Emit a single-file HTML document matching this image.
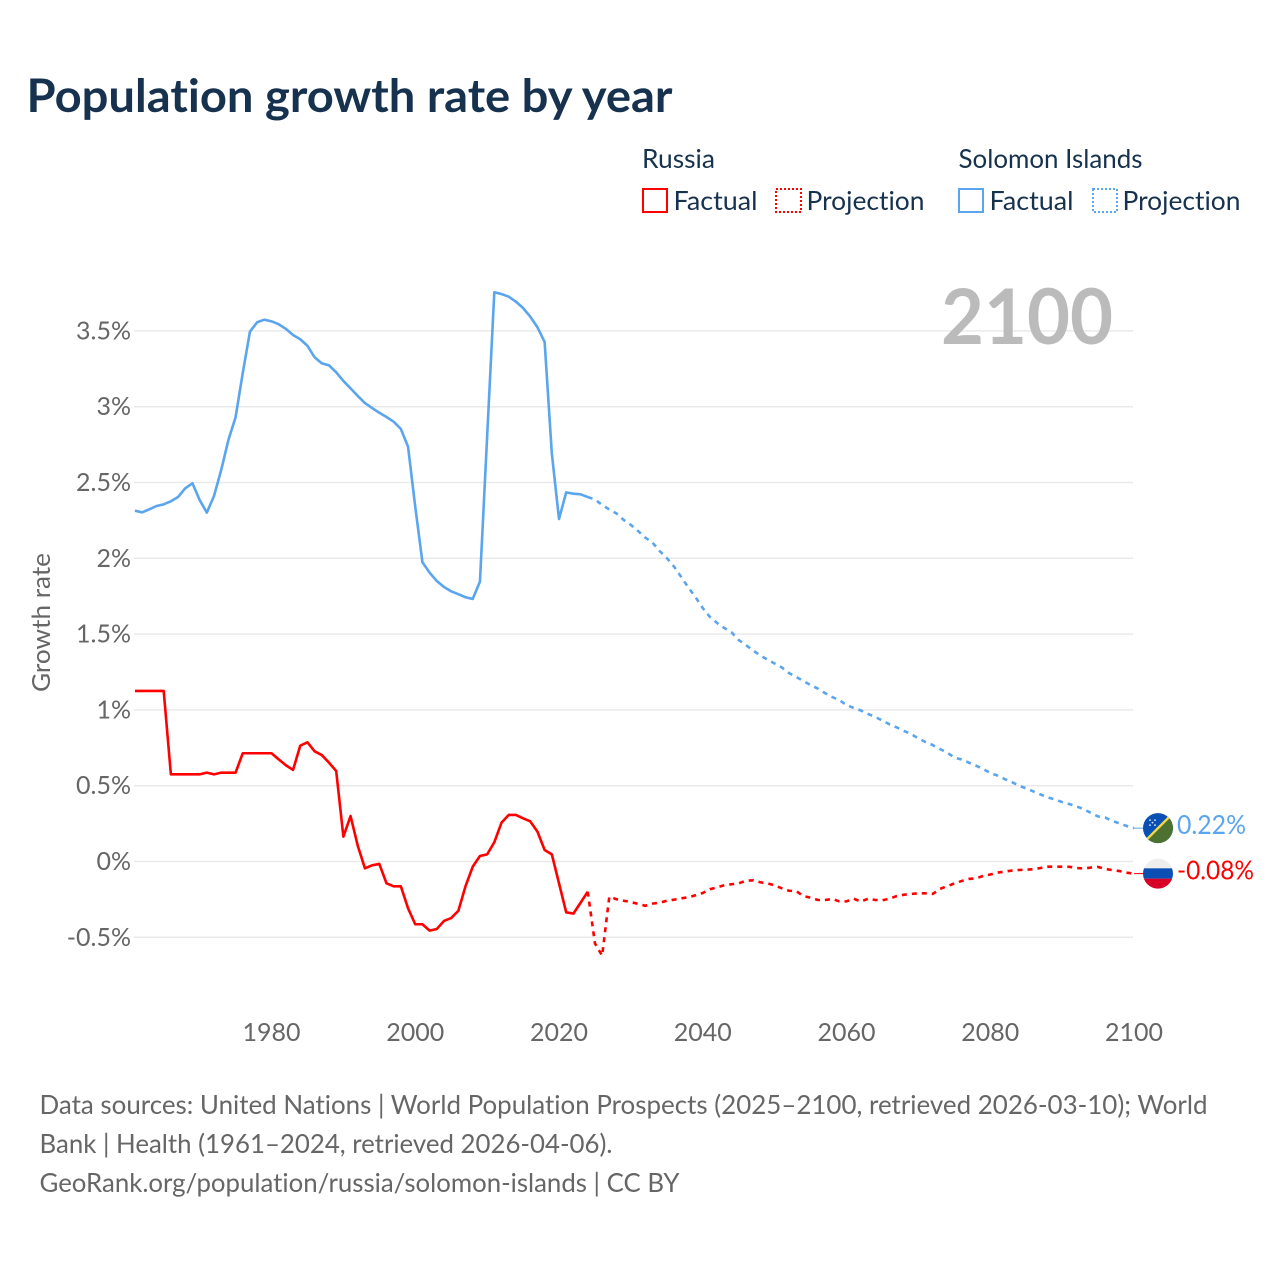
<!DOCTYPE html>
<html lang="en">
<head>
<meta charset="utf-8">
<title>Population growth rate by year</title>
<style>
html,body{margin:0;padding:0;background:#fff;}
svg{display:block;}
text{font-family:"Lato","Carlito","Liberation Sans",sans-serif;font-variant-ligatures:none;}
</style>
</head>
<body>
<svg id="chart" xmlns="http://www.w3.org/2000/svg" width="1280" height="1280" viewBox="0 0 1280 1280">
  <rect x="0" y="0" width="1280" height="1280" fill="#ffffff"/>
  <text x="26.5" y="112" font-size="46" font-weight="700" fill="#17324f" textLength="646" lengthAdjust="spacingAndGlyphs">Population growth rate by year</text>

  <g font-size="26" fill="#17324f">
    <text x="642" y="168" textLength="73" lengthAdjust="spacingAndGlyphs">Russia</text>
    <text x="958.5" y="168" textLength="184" lengthAdjust="spacingAndGlyphs">Solomon Islands</text>
    <rect x="643" y="189" width="24" height="23" fill="none" stroke="#ff0000" stroke-width="2"/>
    <text x="673.5" y="210" textLength="84" lengthAdjust="spacingAndGlyphs">Factual</text>
    <rect x="776" y="189" width="25" height="23" fill="none" stroke="#ff0000" stroke-width="2" stroke-dasharray="2 2"/>
    <text x="806.5" y="210" textLength="118" lengthAdjust="spacingAndGlyphs">Projection</text>
    <rect x="959" y="189" width="24" height="23" fill="none" stroke="#5aa5ee" stroke-width="2"/>
    <text x="989.5" y="210" textLength="84" lengthAdjust="spacingAndGlyphs">Factual</text>
    <rect x="1093" y="189" width="24" height="23" fill="none" stroke="#5aa5ee" stroke-width="2" stroke-dasharray="2 2"/>
    <text x="1122.5" y="210" textLength="118" lengthAdjust="spacingAndGlyphs">Projection</text>
  </g>

  <g id="grid"></g>
  <g id="yticks"></g>
  <g id="xticks"></g>
  <text transform="translate(50,692) rotate(-90)" font-size="25" fill="#666666" textLength="139" lengthAdjust="spacingAndGlyphs">Growth rate</text>
  <text x="941" y="344" font-size="77" font-weight="700" fill="#bbbbbb" textLength="172" lengthAdjust="spacingAndGlyphs">2100</text>

  <g id="series"></g>

  <defs>
    <clipPath id="flag-clip"><circle cx="0" cy="0" r="15"/></clipPath>
  </defs>
  <g id="flag-solomon">
    <g clip-path="url(#flag-clip)">
      <rect x="-16" y="-16" width="32" height="32" fill="#0a50b4"/>
      <polygon points="16,-16 16,16 -16,16" fill="#4c7131"/>
      <line x1="-16" y1="16" x2="16" y2="-16" stroke="#f3d93e" stroke-width="2.4"/>
      <g fill="#dfe8f5">
        <circle cx="-8" cy="-8" r="0.9"/><circle cx="-3" cy="-8" r="0.9"/><circle cx="-8" cy="-3" r="0.9"/><circle cx="-3" cy="-3" r="0.9"/><circle cx="-5.5" cy="-5.5" r="0.9"/>
      </g>
    </g>
  </g>
  <g id="flag-russia">
    <g clip-path="url(#flag-clip)">
      <rect x="-16" y="-16" width="32" height="11" fill="#eeeeee"/>
      <rect x="-16" y="-5.3" width="32" height="10.3" fill="#0b4fb5"/>
      <rect x="-16" y="5" width="32" height="11" fill="#d80027"/>
    </g>
  </g>

  <g font-size="26" fill="#666666">
    <text x="39.5" y="1114" textLength="1168" lengthAdjust="spacingAndGlyphs">Data sources: United Nations | World Population Prospects (2025–2100, retrieved 2026-03-10); World</text>
    <text x="39.5" y="1153" textLength="573" lengthAdjust="spacingAndGlyphs">Bank | Health (1961–2024, retrieved 2026-04-06).</text>
    <text x="39.5" y="1192" textLength="640" lengthAdjust="spacingAndGlyphs">GeoRank.org/population/russia/solomon-islands | CC BY</text>
  </g>
</svg>
<script>
const firstYear = 1961;
const projectionStartYear = 2024;
const yTickValues = [3.5, 3, 2.5, 2, 1.5, 1, 0.5, 0, -0.5];
const yTickLabels = ["3.5%", "3%", "2.5%", "2%", "1.5%", "1%", "0.5%", "0%", "-0.5%"];
const xTickYears = [1980, 2000, 2020, 2040, 2060, 2080, 2100];
const endLabelSolomon = "0.22%";
const endLabelRussia = "-0.08%";

const solomonFactual = [
2.314,2.303,2.323,2.345,2.356,2.376,2.404,2.462,2.495,2.385,
2.301,2.411,2.582,2.780,2.930,3.222,3.495,3.557,3.574,3.563,
3.544,3.513,3.473,3.445,3.402,3.326,3.286,3.273,3.227,3.170,
3.121,3.071,3.024,2.991,2.960,2.932,2.901,2.853,2.736,2.340,
1.974,1.905,1.850,1.811,1.782,1.763,1.743,1.732,1.846,2.802,
3.755,3.743,3.726,3.693,3.651,3.594,3.524,3.427,2.693,2.259,
2.435,2.426,2.422,2.404];

const solomonProjection = [
2.404,2.388,2.352,2.322,2.296,2.253,2.220,2.180,2.137,2.104,
2.048,2.002,1.946,1.877,1.807,1.743,1.672,1.613,1.573,1.540,
1.512,1.461,1.428,1.392,1.359,1.332,1.306,1.280,1.243,1.217,
1.191,1.164,1.141,1.111,1.085,1.065,1.032,1.013,0.996,0.973,
0.953,0.930,0.904,0.884,0.861,0.841,0.811,0.788,0.768,0.742,
0.719,0.686,0.673,0.653,0.633,0.610,0.584,0.567,0.544,0.524,
0.500,0.482,0.462,0.442,0.423,0.409,0.392,0.379,0.363,0.346,
0.320,0.297,0.290,0.267,0.251,0.234,0.220];

const russiaFactual = [
1.125,1.125,1.125,1.125,1.125,0.575,0.575,0.575,0.575,0.575,
0.586,0.575,0.586,0.586,0.586,0.714,0.714,0.714,0.714,0.714,
0.674,0.635,0.604,0.764,0.786,0.727,0.702,0.652,0.597,0.164,
0.300,0.104,-0.045,-0.025,-0.016,-0.144,-0.164,-0.164,-0.309,-0.414,
-0.414,-0.456,-0.445,-0.392,-0.373,-0.325,-0.162,-0.034,0.036,0.047,
0.127,0.256,0.307,0.307,0.285,0.265,0.197,0.076,0.047,-0.144,
-0.335,-0.344,-0.272,-0.199];

const russiaProjection = [
-0.199,-0.540,-0.621,-0.232,-0.249,-0.259,-0.267,-0.280,-0.292,-0.278,
-0.272,-0.259,-0.252,-0.243,-0.236,-0.223,-0.208,-0.183,-0.170,-0.157,
-0.150,-0.144,-0.127,-0.124,-0.137,-0.144,-0.157,-0.177,-0.193,-0.195,
-0.228,-0.239,-0.254,-0.254,-0.247,-0.263,-0.263,-0.245,-0.265,-0.245,
-0.254,-0.256,-0.245,-0.228,-0.219,-0.214,-0.210,-0.210,-0.214,-0.181,
-0.163,-0.145,-0.129,-0.115,-0.111,-0.096,-0.086,-0.073,-0.067,-0.060,
-0.056,-0.054,-0.051,-0.043,-0.034,-0.034,-0.034,-0.035,-0.043,-0.046,
-0.040,-0.036,-0.049,-0.057,-0.063,-0.074,-0.080];

const NS = "http://www.w3.org/2000/svg";
const colorRussia = "#ff0000";
const colorSolomon = "#5aa5ee";

function xScale(year) { return 271.5 + (year - 1980) * (1134 - 271.5) / 120; }
function yScale(value) { return 861.5 - value * 151.6; }

function make(tag, attrs, parent) {
  const el = document.createElementNS(NS, tag);
  for (const k in attrs) el.setAttribute(k, attrs[k]);
  parent.appendChild(el);
  return el;
}

const grid = document.getElementById("grid");
const yticks = document.getElementById("yticks");
const xticks = document.getElementById("xticks");
const series = document.getElementById("series");

yTickValues.forEach(function (v, i) {
  const line = make("line", { x1: 134, x2: 1133, y1: yScale(v), y2: yScale(v), stroke: "#e9e9e9", "stroke-width": 1.5 }, grid);
  
  
  const label = make("text", { x: 131, y: yScale(v) + 8.5, "text-anchor": "end", "font-size": 25, fill: "#666666" }, yticks);
  label.textContent = yTickLabels[i];
  
  
});

xTickYears.forEach(function (year) {
  const label = make("text", { x: xScale(year), y: 1041, "text-anchor": "middle", "font-size": 25, fill: "#666666" }, xticks);
  label.textContent = String(year);
  
  
});

function linePath(values, startYear) {
  return values.map(function (v, i) {
    return (i === 0 ? "M" : "L") + xScale(startYear + i).toFixed(2) + " " + yScale(v).toFixed(2);
  }).join(" ");
}

const solomonFactualLine = make("path", { d: linePath(solomonFactual, firstYear), fill: "none", stroke: colorSolomon, "stroke-width": 2.6, "stroke-linejoin": "round" }, series);



const solomonProjectionLine = make("path", { d: linePath(solomonProjection, projectionStartYear), fill: "none", stroke: colorSolomon, "stroke-width": 2.6, "stroke-dasharray": "5 5" }, series);



const russiaFactualLine = make("path", { d: linePath(russiaFactual, firstYear), fill: "none", stroke: colorRussia, "stroke-width": 2.6, "stroke-linejoin": "round" }, series);



const russiaProjectionLine = make("path", { d: linePath(russiaProjection, projectionStartYear), fill: "none", stroke: colorRussia, "stroke-width": 2.6, "stroke-dasharray": "5 5" }, series);



function endMarker(flagId, value, color, text, labelWidth) {
  const y = yScale(value);
  const flag = document.getElementById(flagId);
  flag.setAttribute("transform", "translate(1158," + y.toFixed(2) + ")");
  const connector = make("line", { x1: 1134, x2: 1143, y1: y, y2: y, stroke: color, "stroke-width": 1 }, series);
  
  
  const label = make("text", { x: 1177, y: y + 6, "font-size": 26, fill: color, textLength: labelWidth, lengthAdjust: "spacingAndGlyphs" }, series);
  label.textContent = text;
  
  
}

endMarker("flag-solomon", solomonProjection[solomonProjection.length - 1], colorSolomon, endLabelSolomon, 69);
endMarker("flag-russia", russiaProjection[russiaProjection.length - 1], colorRussia, endLabelRussia, 77);
</script>
</body>
</html>
